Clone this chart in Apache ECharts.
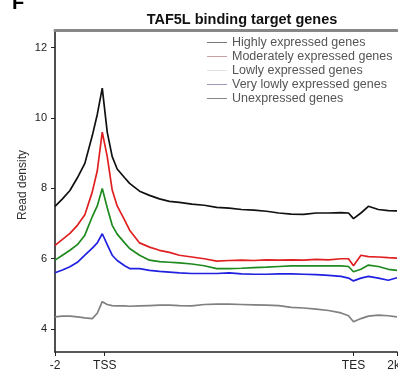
<!DOCTYPE html>
<html>
<head>
<meta charset="utf-8">
<script src="https://cdn.jsdelivr.net/npm/echarts@6/dist/echarts.min.js"></script>
<style>
  html, body { margin: 0; padding: 0; background: #fff; }
  #chart { width: 398px; height: 378px; }
</style>
</head>
<body>
<div id="chart"></div>
<script>
// x position in scaled units: -2..0 upstream kb, 0 = TSS, 10 = TES, then downstream
var xs = [-2, -1.7, -1.4, -1.1, -0.8, -0.5, -0.3, -0.1, 0.1, 0.3, 0.5, 0.8, 1.0, 1.4, 1.8, 2.2, 2.6, 3,
  3.5, 4, 4.5, 5, 5.5, 6, 6.5, 7, 7.5, 8, 8.5, 9, 9.5, 9.8, 10, 10.3, 10.6, 11, 11.4, 11.75];

var highly = [7.49, 7.7, 7.94, 8.3, 8.71, 9.5, 10.1, 10.85, 9.6, 8.9, 8.55, 8.3, 8.14, 7.92, 7.8, 7.7, 7.63, 7.6,
  7.55, 7.52, 7.46, 7.44, 7.4, 7.38, 7.35, 7.3, 7.27, 7.26, 7.3, 7.3, 7.31, 7.3, 7.14, 7.3, 7.49, 7.4, 7.37, 7.36];
var moderately = [6.38, 6.55, 6.72, 6.95, 7.25, 7.9, 8.5, 9.6, 8.9, 7.95, 7.5, 7.1, 6.81, 6.45, 6.33, 6.24, 6.18, 6.1,
  6.05, 6.0, 5.93, 5.95, 5.96, 5.95, 5.97, 5.96, 5.97, 5.96, 5.98, 5.97, 6.0, 6.0, 5.8, 6.1, 6.06, 6.05, 6.03, 6.02];
var lowly = [5.96, 6.1, 6.24, 6.4, 6.67, 7.2, 7.5, 8.0, 7.45, 6.95, 6.7, 6.45, 6.29, 6.1, 5.96, 5.92, 5.9, 5.88,
  5.85, 5.8, 5.72, 5.72, 5.73, 5.75, 5.76, 5.78, 5.8, 5.8, 5.8, 5.8, 5.8, 5.78, 5.63, 5.7, 5.82, 5.78, 5.7, 5.67];
var veryLowly = [5.6, 5.68, 5.77, 5.9, 6.1, 6.3, 6.45, 6.71, 6.4, 6.1, 5.95, 5.8, 5.72, 5.72, 5.67, 5.64, 5.62, 5.6,
  5.58, 5.58, 5.58, 5.6, 5.57, 5.56, 5.56, 5.57, 5.57, 5.56, 5.55, 5.53, 5.5, 5.45, 5.37, 5.45, 5.5, 5.45, 5.39, 5.46];
var unexpressed = [4.35, 4.37, 4.37, 4.35, 4.32, 4.3, 4.45, 4.78, 4.7, 4.67, 4.66, 4.66, 4.65, 4.66, 4.67, 4.68, 4.68, 4.67,
  4.66, 4.7, 4.71, 4.71, 4.7, 4.69, 4.68, 4.67, 4.62, 4.6, 4.57, 4.53, 4.46, 4.38, 4.21, 4.3, 4.37, 4.4, 4.38, 4.35];

var names = ['Highly expressed genes', 'Moderately expressed genes', 'Lowly expressed genes',
  'Very lowly expressed genes', 'Unexpressed genes'];
var lineColors = ['#111111', '#e02020', '#1e8a1e', '#2020e0', '#808080'];
var legendColors = ['#777777', '#caa0a0', '#e2e2e2', '#9a9ab8', '#888888'];

var xTicks = [-2, 0, 10, 11.75];
var xTickLabels = ['-2', 'TSS', 'TES', '2kb'];
var yTicks = [4, 6, 8, 10, 12];

var myChart = echarts.init(document.getElementById('chart'));

function pairs(ys) {
  return xs.map(function (x, i) { return [x, ys[i]]; });
}

var allData = [highly, moderately, lowly, veryLowly, unexpressed];
var series = allData.map(function (d, i) {
  return {
    name: names[i],
    type: 'line',
    data: pairs(d),
    showSymbol: false,
    lineStyle: { color: lineColors[i], width: 1.7 },
    itemStyle: { color: lineColors[i] },
    z: 10 - i
  };
});

var option = {
  animation: false,
  title: {
    text: 'TAF5L binding target genes',
    left: 237,
    top: 7,
    textAlign: 'center',
    textStyle: { fontFamily: 'Liberation Sans', fontSize: 14.5, fontWeight: 'bold', color: '#111' }
  },
  graphic: [{
    type: 'text',
    style: { x: 12, y: 13, text: 'F', verticalAlign: 'bottom', font: 'bold 20px Liberation Sans', fill: '#000' }
  }, {
    // y axis title, sits a little above the middle of the axis
    type: 'text',
    rotation: Math.PI / 2,
    x: 23, y: 185,
    style: { text: 'Read density', align: 'center', verticalAlign: 'middle', font: '12px Liberation Sans', fill: '#333' }
  }],
  legend: {
    orient: 'vertical',
    left: 207,
    top: 36,
    padding: 0,
    icon: 'rect',
    itemWidth: 20,
    itemHeight: 1,
    itemGap: 1,
    textStyle: { fontFamily: 'Liberation Sans', fontSize: 12.5, color: '#555' },
    data: names.map(function (n, i) {
      return { name: n, itemStyle: { color: legendColors[i] } };
    })
  },
  grid: { left: 55, right: 1, top: 30, bottom: 26, outerBoundsMode: 'none' },
  xAxis: [{
    type: 'value',
    min: -2,
    max: 11.75,
    splitLine: { show: false },
    axisLine: { lineStyle: { color: '#222', width: 1.6 } },
    axisTick: { customValues: xTicks, length: 4, lineStyle: { color: '#222' } },
    axisLabel: {
      customValues: xTicks,
      margin: 8,
      fontFamily: 'Liberation Sans', fontSize: 12, color: '#222',
      formatter: function (v) {
        var k = xTicks.indexOf(v);
        return k >= 0 ? xTickLabels[k] : '';
      }
    }
  }, {
    type: 'value',
    position: 'top',
    min: -2,
    max: 11.75,
    splitLine: { show: false },
    axisLine: { lineStyle: { color: '#888', width: 3 } },
    axisTick: { show: false },
    axisLabel: { show: false }
  }],
  yAxis: {
    type: 'value',
    min: 3.35,
    max: 12.5,
    splitLine: { show: false },
    axisLine: { show: true, onZero: false, lineStyle: { color: '#222', width: 1.6 } },
    axisTick: { show: true, customValues: yTicks, length: 4, lineStyle: { color: '#222' } },
    axisLabel: { customValues: yTicks, margin: 8, fontFamily: 'Liberation Sans', fontSize: 11, color: '#222' }
  },
  series: series
};

myChart.setOption(option, true);
</script>
</body>
</html>
